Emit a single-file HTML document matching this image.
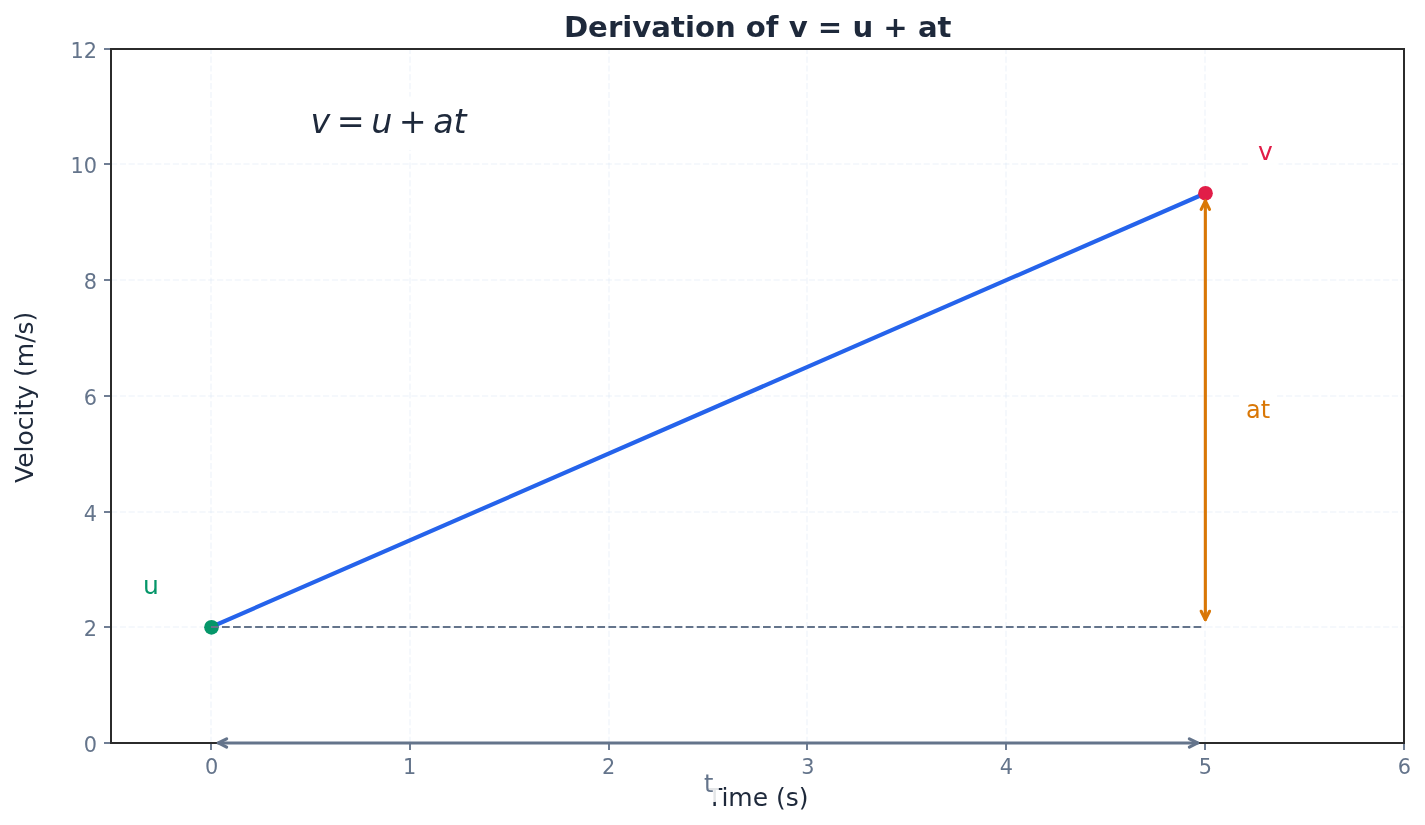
<!DOCTYPE html>
<html lang="en"><head><meta charset="utf-8"><title>Derivation of v = u + at</title>
<style>
html,body{margin:0;padding:0;background:#fff;width:1425px;height:825px;overflow:hidden}
svg{display:block}
text{font-family:"DejaVu Sans","Liberation Sans",sans-serif}
</style></head><body>
<svg width="1425" height="825" viewBox="0 0 1425 825" font-family="'DejaVu Sans', 'Liberation Sans', sans-serif">
<rect x="0" y="0" width="1425" height="825" fill="#ffffff"/>
<g id="grid" fill="none" stroke="#dbe4f3" stroke-opacity="0.27" stroke-width="2" stroke-dasharray="6.167 2.667">
<path d="M 211.00 743.00 L 211.00 49.00"/>
<path d="M 410.00 743.00 L 410.00 49.00"/>
<path d="M 609.00 743.00 L 609.00 49.00"/>
<path d="M 807.00 743.00 L 807.00 49.00"/>
<path d="M 1006.00 743.00 L 1006.00 49.00"/>
<path d="M 1205.00 743.00 L 1205.00 49.00"/>
<path d="M 111.00 627.00 L 1404.00 627.00"/>
<path d="M 111.00 512.00 L 1404.00 512.00"/>
<path d="M 111.00 396.00 L 1404.00 396.00"/>
<path d="M 111.00 280.00 L 1404.00 280.00"/>
<path d="M 111.00 164.00 L 1404.00 164.00"/>
</g>
<path id="vline" d="M 210.65 627.26 L 1205.35 193.34" fill="none" stroke="#2563eb" stroke-width="4.167" stroke-linecap="square"/>
<g id="ticks" fill="none" stroke="#64748b" stroke-width="1.85">
<path d="M 211.0 743.0 L 211.0 750.0"/>
<path d="M 410.0 743.0 L 410.0 750.0"/>
<path d="M 609.0 743.0 L 609.0 750.0"/>
<path d="M 807.0 743.0 L 807.0 750.0"/>
<path d="M 1006.0 743.0 L 1006.0 750.0"/>
<path d="M 1205.0 743.0 L 1205.0 750.0"/>
<path d="M 1404.0 743.0 L 1404.0 750.0"/>
<path d="M 111.0 743.0 L 104.0 743.0"/>
<path d="M 111.0 627.0 L 104.0 627.0"/>
<path d="M 111.0 512.0 L 104.0 512.0"/>
<path d="M 111.0 396.0 L 104.0 396.0"/>
<path d="M 111.0 280.0 L 104.0 280.0"/>
<path d="M 111.0 164.0 L 104.0 164.0"/>
<path d="M 111.0 49.0 L 104.0 49.0"/>
</g>
<g id="spines" fill="none" stroke="#2b2b2b" stroke-width="2" stroke-linecap="square">
<path d="M 111.0 743.0 L 111.0 49.0"/>
<path d="M 1404.0 743.0 L 1404.0 49.0"/>
<path d="M 111.0 743.0 L 1404.0 743.0"/>
<path d="M 111.0 49.0 L 1404.0 49.0"/>
</g>
<g id="xticklabels" font-size="20.833" fill="#64748b" text-anchor="middle">
<text x="211.65" y="774.00">0</text>
<text x="409.59" y="774.00">1</text>
<text x="608.53" y="774.00">2</text>
<text x="807.87" y="774.00">3</text>
<text x="1006.41" y="774.00">4</text>
<text x="1205.35" y="774.00">5</text>
<text x="1404.29" y="774.00">6</text>
</g>
<g id="yticklabels" font-size="20.833" fill="#64748b" text-anchor="end">
<text x="97.00" y="751.97">0</text>
<text x="97.00" y="636.26">2</text>
<text x="97.00" y="520.55">4</text>
<text x="97.00" y="404.84">6</text>
<text x="97.00" y="289.12">8</text>
<text x="97.00" y="173.41">10</text>
<text x="97.00" y="57.70">12</text>
</g>
<circle id="dot-u" cx="211.50" cy="627.30" r="7.35" fill="#059669"/>
<circle id="dot-v" cx="1205.50" cy="193.30" r="7.35" fill="#e11d48"/>
<path id="uline" d="M 210.95 627.00 L 1203.85 627.00" fill="none" stroke="#64748b" stroke-width="2" stroke-dasharray="7.708 3.333"/>
<g fill="none" stroke="#d97706" stroke-width="3.125" stroke-linecap="round" stroke-linejoin="round"><path d="M 1205.35 619.60 L 1205.35 201.00"/><path d="M 1209.52 611.26 L 1205.35 619.60 L 1201.18 611.26"/><path d="M 1209.52 209.33 L 1205.35 201.00 L 1201.18 209.33"/></g>
<g fill="none" stroke="#64748b" stroke-width="3.125" stroke-linecap="round" stroke-linejoin="round"><path d="M 218.31 742.97 L 1197.69 742.97"/><path d="M 226.64 747.14 L 218.31 742.97 L 226.64 738.80"/><path d="M 1189.36 747.14 L 1197.69 742.97 L 1189.36 738.80"/></g>
<path d="M 143.60 606.00 L 158.20 606.00 Q 165.20 606.00 165.20 599.00 L 165.20 574.00 Q 165.20 567.00 158.20 567.00 L 143.60 567.00 Q 136.60 567.00 136.60 574.00 L 136.60 599.00 Q 136.60 606.00 143.60 606.00 Z" fill="#ffffff" opacity="0.88"/><text x="143.00" y="594.00" font-size="25.000" fill="#059669">u</text>
<path d="M 1257.00 172.70 L 1271.60 172.70 Q 1278.60 172.70 1278.60 165.70 L 1278.60 140.30 Q 1278.60 133.30 1271.60 133.30 L 1257.00 133.30 Q 1250.00 133.30 1250.00 140.30 L 1250.00 165.70 Q 1250.00 172.70 1257.00 172.70 Z" fill="#ffffff" opacity="0.88"/><text x="1258.00" y="160.00" font-size="25.000" fill="#e11d48">v</text>
<path d="M 1246.00 429.00 L 1270.00 429.00 Q 1277.00 429.00 1277.00 422.00 L 1277.00 398.00 Q 1277.00 391.00 1270.00 391.00 L 1246.00 391.00 Q 1239.00 391.00 1239.00 398.00 L 1239.00 422.00 Q 1239.00 429.00 1246.00 429.00 Z" fill="#ffffff" opacity="0.88"/><text x="1246.00" y="418.00" font-size="23.958" fill="#d97706">at</text>
<path d="M 307.00 150.00 L 473.00 150.00 Q 483.00 150.00 483.00 140.00 L 483.00 106.40 Q 483.00 96.40 473.00 96.40 L 307.00 96.40 Q 297.00 96.40 297.00 106.40 L 297.00 140.00 Q 297.00 150.00 307.00 150.00 Z" fill="#ffffff" opacity="0.88"/>
<text id="eq" y="133.00" font-size="33.333" fill="#1e293b"><tspan x="310.50" font-style="oblique">v</tspan><tspan x="336.72">=</tspan><tspan x="371.14" font-style="oblique">u</tspan><tspan x="398.76">+</tspan><tspan x="433.19" font-style="oblique">a</tspan><tspan x="453.62" font-style="oblique">t</tspan></text>
<text id="title" x="757.74" y="37.00" font-size="29.167" font-weight="700" fill="#1e293b" text-anchor="middle">Derivation of v = u + at</text>
<text id="xlabel" x="757.74" y="806.00" font-size="25.000" fill="#1e293b" text-anchor="middle">Time (s)</text>
<text id="ylabel" transform="translate(33.00 397.34) rotate(-90)" font-size="25.000" fill="#1e293b" text-anchor="middle">Velocity (m/s)</text>
<path d="M 701.90 802.10 L 714.85 802.10 Q 718.85 802.10 718.85 798.10 L 718.85 768.50 Q 718.85 764.50 714.85 764.50 L 701.90 764.50 Q 697.90 764.50 697.90 768.50 L 697.90 798.10 Q 697.90 802.10 701.90 802.10 Z" fill="#ffffff" opacity="0.88"/><text x="704.00" y="792.20" font-size="23.958" fill="#64748b">t</text>
</svg>
</body></html>
